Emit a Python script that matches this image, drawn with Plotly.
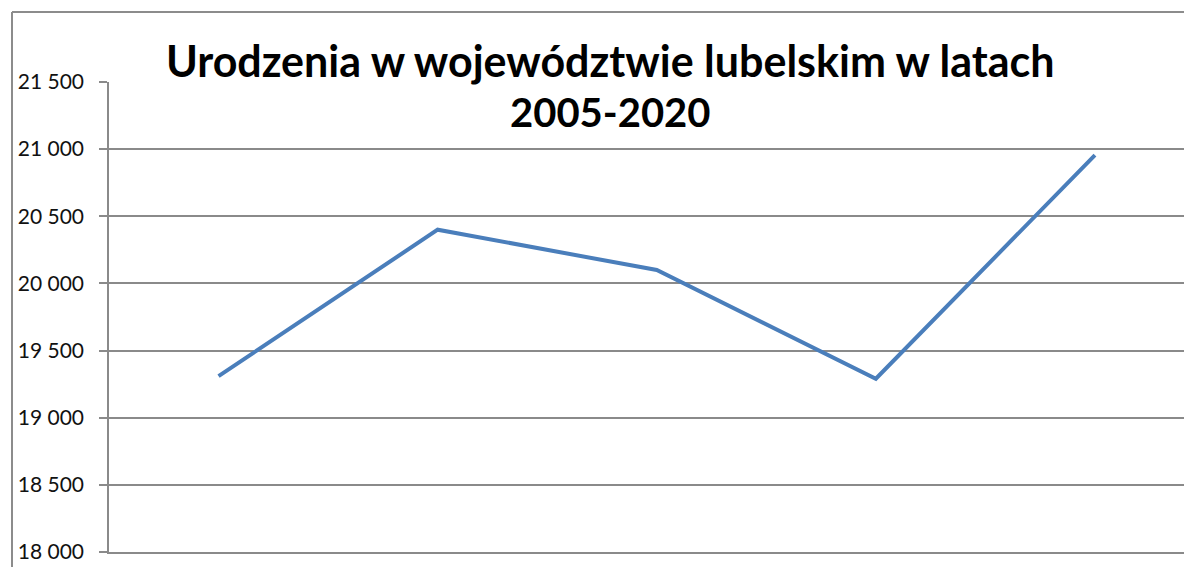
import plotly.graph_objects as go

# Data
categories = ["2005", "2010", "2015", "2019", "2020"]
births = [19310, 20400, 20100, 19290, 20955]
y_ticks = [18000, 18500, 19000, 19500, 20000, 20500, 21000, 21500]
title_lines = ["Urodzenia w województwie lubelskim w latach", "2005-2020"]

# page offset of the figure div (default body margin)
OFF = 8
PAGE_W, PAGE_H = 1192, 567
W, H = PAGE_W - OFF, PAGE_H - OFF
# desired page-pixel positions of the plot area
PL, PT, PB = 109, 82, 552
L = PL - OFF
T = PT - OFF
B = PAGE_H - PB
R = 0
pw = W - L - R
ph = H - T - B

def px_to_paper_x(px):
    return (px - PL) / pw

def px_to_paper_y(py):
    return (PB - py) / ph

GRID = "#8a8a8a"
BLUE = "#4A7EBB"
FONT = "Lato, Carlito, Calibri, sans-serif"

fig = go.Figure()
fig.add_trace(go.Scatter(
    x=list(range(len(categories))), y=births, mode="lines",
    line=dict(color=BLUE, width=4), hoverinfo="y", showlegend=False,
))

fig.update_layout(
    width=W, height=H,
    margin=dict(l=L, r=R, t=T, b=B),
    paper_bgcolor="white", plot_bgcolor="white",
    separators=", ",
    font=dict(family=FONT, color="#000000"),
    showlegend=False,
)

for txt, top, size in zip(title_lines, [33, 86], [43, 40]):
    fig.add_annotation(
        text=f"<b>{txt}</b>",
        xref="paper", yref="paper",
        x=px_to_paper_x(610), y=px_to_paper_y(top),
        xanchor="center", yanchor="top", showarrow=False,
        font=dict(family=FONT, size=size, color="#000000"),
    )

fig.update_xaxes(
    range=[-0.5, (PAGE_W - 219) / 219],
    showticklabels=False, showgrid=False, zeroline=False,
    showline=True, linecolor=GRID, linewidth=1.5,
    ticks="", fixedrange=True,
)
fig.update_yaxes(
    range=[18000, 21500],
    tickvals=y_ticks, tickformat=",d",
    showgrid=True, gridcolor=GRID, gridwidth=1.5,
    showline=True, linecolor=GRID, linewidth=1.5,
    ticks="outside", ticklen=8, tickcolor=GRID, tickwidth=1.5,
    ticklabelstandoff=11,
    tickfont=dict(family=FONT, size=21, color="#111111"),
    zeroline=False, fixedrange=True,
)

# outer chart border (top and left visible)
x0 = px_to_paper_x(12)
y0 = px_to_paper_y(12)
fig.add_shape(type="line", xref="paper", yref="paper",
              x0=x0, x1=px_to_paper_x(PAGE_W + 5), y0=y0, y1=y0,
              line=dict(color="#8c8c8c", width=2))
fig.add_shape(type="line", xref="paper", yref="paper",
              x0=x0, x1=x0, y0=y0, y1=px_to_paper_y(PAGE_H + 5),
              line=dict(color="#8c8c8c", width=2))

fig.write_html("out.html")
